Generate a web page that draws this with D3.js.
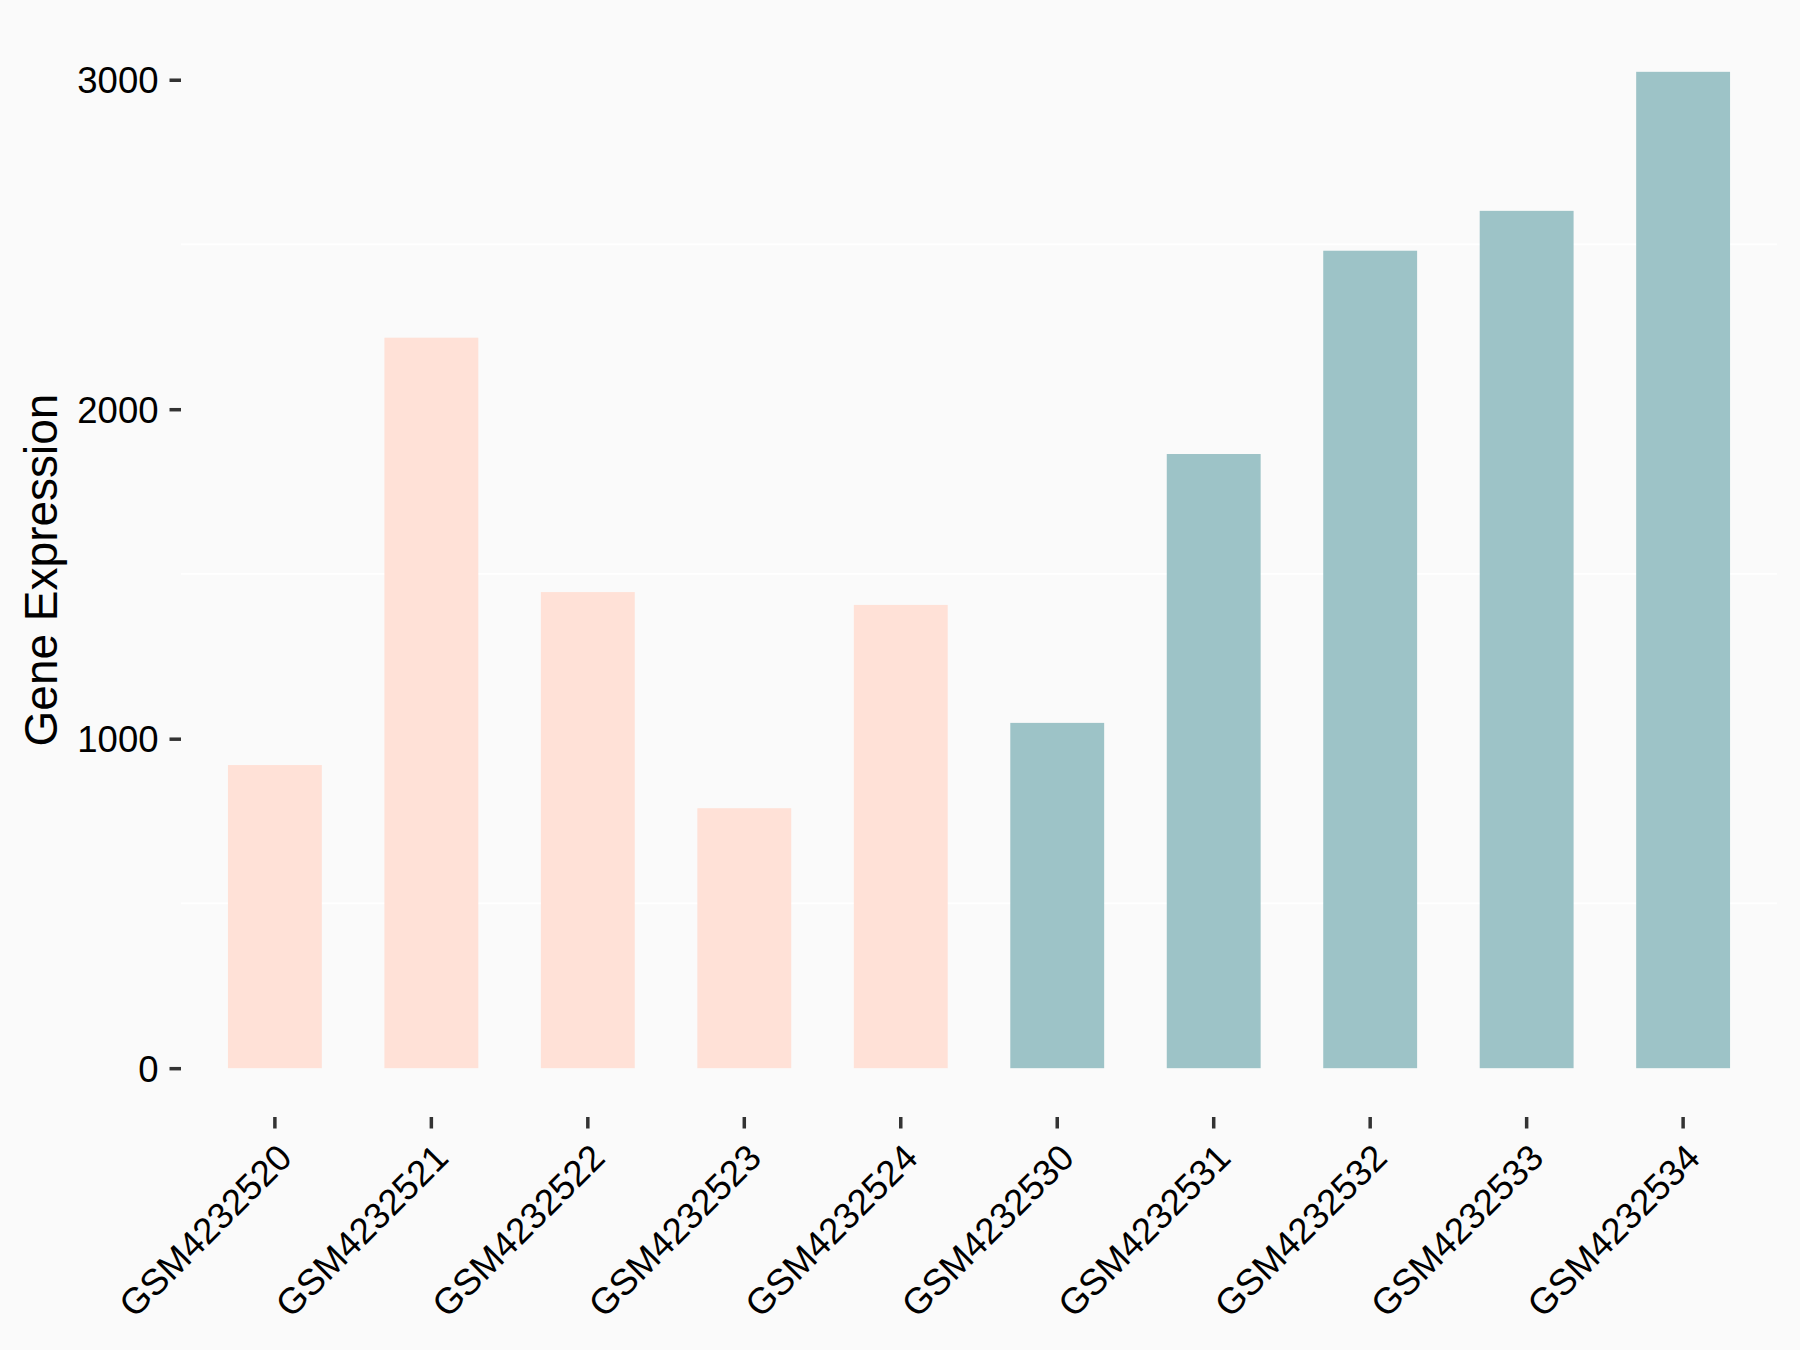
<!DOCTYPE html>
<html>
<head>
<meta charset="utf-8">
<script src="https://cdn.jsdelivr.net/npm/d3@7/dist/d3.min.js"></script>
<style>
  html, body { margin: 0; padding: 0; background: #FAFAFA; }
  svg { display: block; }
  text { font-family: "Liberation Sans", Arial, sans-serif; }
</style>
</head>
<body>
<script>
const samples = ["GSM4232520","GSM4232521","GSM4232522","GSM4232523","GSM4232524",
                 "GSM4232530","GSM4232531","GSM4232532","GSM4232533","GSM4232534"];
const values = [920, 2217, 1445, 789, 1406, 1048, 1864, 2481, 2602, 3024];
const groups = ["A","A","A","A","A","B","B","B","B","B"];
const groupNames = ["A","B"];
const groupColors = ["#FFE1D7", "#9DC3C7"];
const yTicks = [0, 1000, 2000, 3000];
const yMinorTicks = [500, 1500, 2500];
const yTitle = "Gene Expression";

const W = 1800, H = 1350;
const panel = { left: 181, right: 1777, top: 22, bottom: 1118 };

const svg = d3.select("body").append("svg").attr("width", W).attr("height", H);
svg.append("rect").attr("width", W).attr("height", H).attr("fill", "#FAFAFA");

const x = d3.scaleBand().domain(samples)
  .range([panel.left, panel.right]).paddingInner(0.4).paddingOuter(0.3);

const vmax = d3.max(values);
const pad = vmax * 0.05;
const y = d3.scaleLinear().domain([-pad, vmax + pad]).range([panel.bottom, panel.top]);

const color = d3.scaleOrdinal().domain(groupNames).range(groupColors);

// minor gridlines
svg.append("g").selectAll("line").data(yMinorTicks).join("line")
  .attr("x1", panel.left).attr("x2", panel.right)
  .attr("y1", d => y(d)).attr("y2", d => y(d))
  .attr("stroke", "#FFFFFF").attr("stroke-width", 1.8);

// bars
svg.append("g").selectAll("rect").data(samples).join("rect")
  .attr("x", d => x(d))
  .attr("width", x.bandwidth())
  .attr("y", (d, i) => y(values[i]))
  .attr("height", (d, i) => y(0) - y(values[i]))
  .attr("fill", (d, i) => color(groups[i]));

// y axis
const yAxis = d3.axisLeft(y).tickValues(yTicks).tickSize(11.5).tickPadding(11).tickFormat(d3.format("d"));
const gy = svg.append("g").attr("transform", `translate(${panel.left},0)`).call(yAxis);
gy.select(".domain").remove();
gy.selectAll(".tick line").attr("stroke", "#333333").attr("stroke-width", 3.5);
gy.selectAll(".tick text").attr("fill", "#000000").style("font-size", "36.5px")
  .style("font-family", '"Liberation Sans", Arial, sans-serif').attr("dy", "0.36em");

// x axis
const xAxis = d3.axisBottom(x).tickSize(11.5).tickPadding(0);
const gx = svg.append("g").attr("transform", `translate(0,${panel.bottom - 1})`).call(xAxis);
gx.select(".domain").remove();
gx.selectAll(".tick line").attr("stroke", "#333333").attr("stroke-width", 3.5);
gx.selectAll(".tick text")
  .attr("fill", "#000000").style("font-size", "36.5px")
  .style("font-family", '"Liberation Sans", Arial, sans-serif')
  .attr("text-anchor", "end")
  .attr("y", 0).attr("dy", 0)
  .attr("transform", "translate(19,43) rotate(-45)");

// y title
svg.append("text")
  .attr("transform", `translate(57,${(panel.top + panel.bottom) / 2}) rotate(-90)`)
  .attr("text-anchor", "middle")
  .attr("fill", "#000000")
  .style("font-size", "46px")
  .text(yTitle);
</script>
</body>
</html>
